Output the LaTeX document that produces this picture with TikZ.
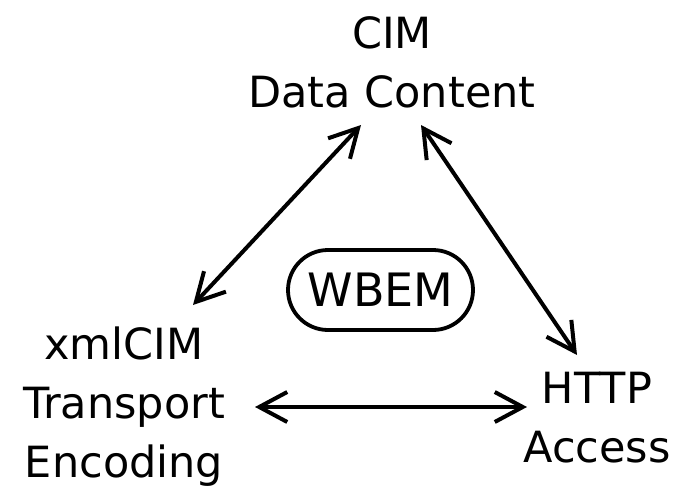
\documentclass[tikz,border=0pt]{standalone}
\usepackage{fontspec}
\setmainfont{DejaVu Sans}
\usetikzlibrary{arrows.meta,shapes.misc}
\tikzset{
  lbl/.style={align=center,inner sep=0pt,font=\fontsize{43}{59}\selectfont,anchor=base},
  link/.style={line width=4pt,{Straight Barb[length=28pt,width=30pt]}-{Straight Barb[length=28pt,width=30pt]}},
  pill/.style={rounded rectangle,draw,line width=3.8pt,minimum width=185pt,minimum height=80pt,inner sep=0pt,font=\fontsize{46}{50}\selectfont}
}
\begin{document}
\begin{tikzpicture}[x=1pt,y=-1pt]
\useasboundingbox (0,0) rectangle (675,487);
\node[lbl] (cim) at (392,107) {CIM\\Data Content};
\node[lbl] (xml) at (124,477) {xmlCIM\\Transport\\Encoding};
\node[lbl] (http) at (597,462) {HTTP\\Access};
\node[pill] (wbem) at (380.5,290) {WBEM};
\coordinate (c1) at (361,125);
\coordinate (x1) at (193,305);
\coordinate (c2) at (421,125);
\coordinate (h1) at (577,355);
\coordinate (x2) at (255,407);
\coordinate (h2) at (527,407);
\draw[link] (x1) -- (c1);
\draw[link] (c2) -- (h1);
\draw[link] (x2) -- (h2);
\end{tikzpicture}
\end{document}
